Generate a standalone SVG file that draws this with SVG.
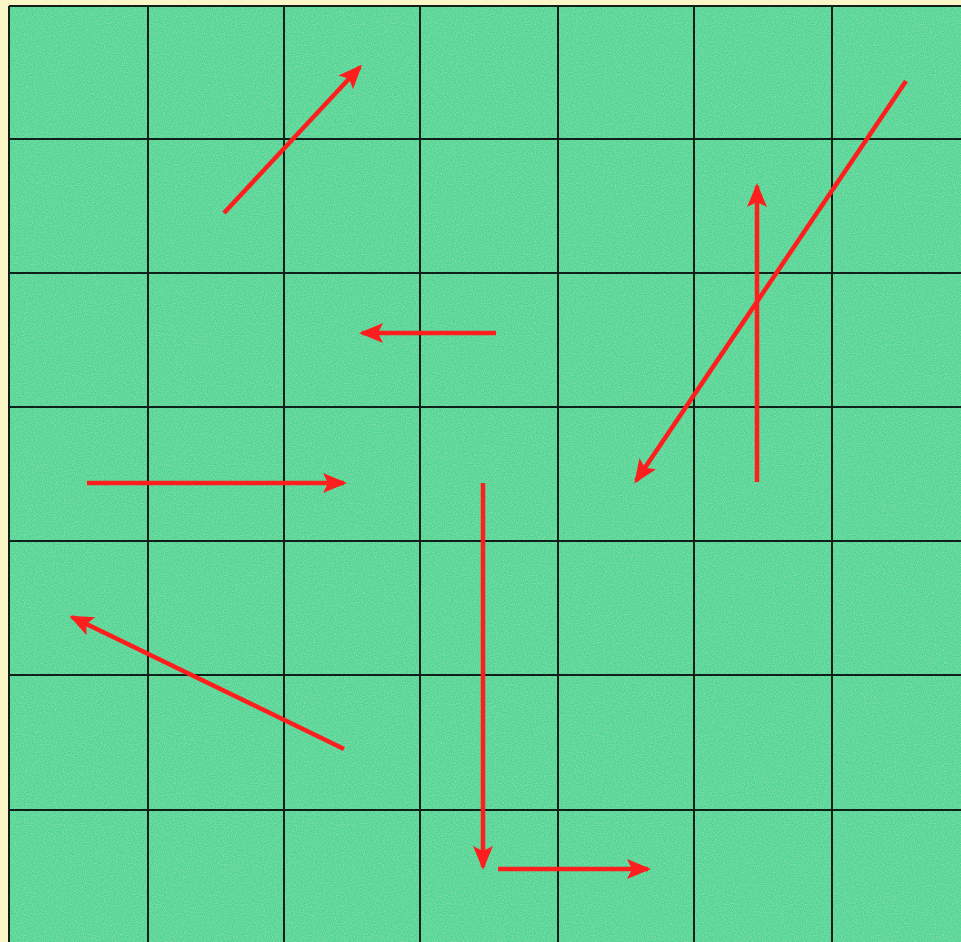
<svg xmlns="http://www.w3.org/2000/svg" width="961" height="942" viewBox="0 0 961 942">
<defs>
<marker id="ah" markerUnits="userSpaceOnUse" markerWidth="26" markerHeight="22" refX="21" refY="11" orient="auto">
<path d="M0,1 L24,11 L0,21 L5,11 Z" fill="#ff1e1e"/>
</marker>
<filter id="noise" x="0" y="0" width="100%" height="100%">
<feTurbulence type="fractalNoise" baseFrequency="0.9" numOctaves="1" seed="3" result="n"/>
<feColorMatrix in="n" type="matrix" values="0 0 0 0 1  0 0 0 0 1  0 0 0 0 1  0 0 0 0.4 -0.15" result="w"/>
<feComposite in="w" in2="SourceGraphic" operator="in" result="wc"/>
<feMerge><feMergeNode in="SourceGraphic"/><feMergeNode in="wc"/></feMerge>
</filter>
<style>
.grid{stroke:#102018;stroke-width:2;fill:none}
.arr{stroke:#ff1e1e;stroke-width:4.5;fill:none;marker-end:url(#ah)}
</style>
</defs>
<rect x="0" y="0" width="961" height="942" fill="#fbf6c8"/>
<g id="board">
<rect x="9" y="6" width="952" height="936" fill="#50d594" filter="url(#noise)"/>
<g class="grid">
<line x1="9" y1="6" x2="9" y2="942"/>
<line x1="148" y1="6" x2="148" y2="942"/>
<line x1="284" y1="6" x2="284" y2="942"/>
<line x1="420" y1="6" x2="420" y2="942"/>
<line x1="558" y1="6" x2="558" y2="942"/>
<line x1="694" y1="6" x2="694" y2="942"/>
<line x1="832" y1="6" x2="832" y2="942"/>
<line x1="9" y1="6" x2="961" y2="6"/>
<line x1="9" y1="139" x2="961" y2="139"/>
<line x1="9" y1="273" x2="961" y2="273"/>
<line x1="9" y1="407" x2="961" y2="407"/>
<line x1="9" y1="541" x2="961" y2="541"/>
<line x1="9" y1="675" x2="961" y2="675"/>
<line x1="9" y1="810" x2="961" y2="810"/>
</g>
</g>
<g id="connectors">
<line class="arr" x1="224" y1="213" x2="360" y2="67"/>
<line class="arr" x1="906" y1="81" x2="636" y2="481"/>
<line class="arr" x1="757" y1="482" x2="757" y2="186"/>
<line class="arr" x1="496" y1="333" x2="362" y2="333"/>
<line class="arr" x1="87" y1="483" x2="344" y2="483"/>
<line class="arr" x1="344" y1="749" x2="72" y2="617"/>
<line class="arr" x1="483" y1="483" x2="483" y2="867"/>
<line class="arr" x1="498" y1="869" x2="648" y2="869"/>
</g>
</svg>
